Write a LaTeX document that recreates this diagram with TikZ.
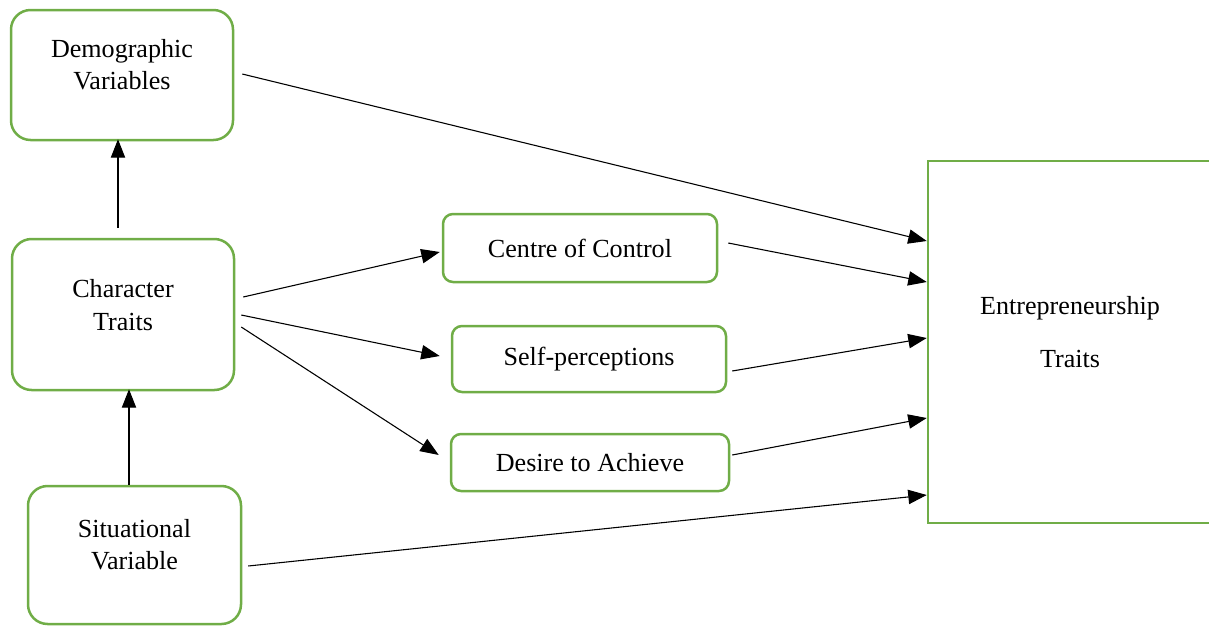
\documentclass[tikz,border=0pt]{standalone}
\usepackage{fontspec}
\setmainfont{Liberation Serif}
\usetikzlibrary{arrows.meta,calc}
\definecolor{boxgreen}{HTML}{70AD47}
\begin{document}
\begin{tikzpicture}[x=0.46pt,y=-0.46pt,
  bigbox/.style={draw=boxgreen,line width=1.15pt,rounded corners=9pt,inner sep=0pt},
  smallbox/.style={draw=boxgreen,line width=1.15pt,rounded corners=4.6pt,inner sep=0pt},
  sqbox/.style={draw=boxgreen,line width=1.15pt,inner sep=0pt},
  txt/.style={font=\fontsize{12pt}{14.8pt}\selectfont,align=center,inner sep=0pt},
  arr/.style={-{Triangle[length=8.5pt,width=6.6pt]},line width=0.5pt}]
\useasboundingbox (0,0) rectangle (1209,626);
% boxes
\node[bigbox,minimum width={222*0.46pt},minimum height={130*0.46pt}] (demo) at (122,75) {};
\node[txt] (demot) at (122,65) {Demographic\\Variables};
\node[bigbox,minimum width={222*0.46pt},minimum height={151*0.46pt}] (char) at (123,314.5) {};
\node[txt] (chart) at (123,305) {Character\\Traits};
\node[bigbox,minimum width={213*0.46pt},minimum height={138*0.46pt}] (sit) at (134.5,555) {};
\node[txt] (sitt) at (134.5,545) {Situational\\Variable};
\node[smallbox,minimum width={274*0.46pt},minimum height={68*0.46pt},txt] (ctrl) at (580,248) {Centre of Control};
\node[smallbox,minimum width={274*0.46pt},minimum height={66*0.46pt},txt] (self) at (589,359) {Self-perceptions};
\node[smallbox,minimum width={278*0.46pt},minimum height={57*0.46pt},txt] (des) at (590,462.5) {Desire to Achieve};
\node[sqbox,minimum width={292*0.46pt},minimum height={362*0.46pt}] (ent) at (1074,342) {};
\node[txt,font=\fontsize{12pt}{24.5pt}\selectfont] (entt) at (1070,332) {Entrepreneurship\\Traits};
% connectors
\draw[arr] ($(char.north)+(-5,-10)$) -- ($(demo.south)+(-4,-2)$);
\draw[arr] ($(sit.north)+(-5.5,0)$) -- ($(char.south)+(6,-2)$);
\draw[arr] ($(demo.east)+(8,-1)$) -- ($(ent.west)+(0,-101)$);
\draw[arr] ($(char.east)+(8,-17.5)$) -- ($(ctrl.west)+(-2,4)$);
\draw[arr] ($(char.east)+(6,0.5)$) -- ($(self.west)+(-11,-3)$);
\draw[arr] ($(char.east)+(6,12.5)$) -- ($(des.west)+(-11,-7.5)$);
\draw[arr] ($(ctrl.east)+(10,-5)$) -- ($(ent.west)+(0,-60)$);
\draw[arr] ($(self.east)+(5,12)$) -- ($(ent.west)+(0,-4)$);
\draw[arr] ($(des.east)+(2,-7.5)$) -- ($(ent.west)+(0,76)$);
\draw[arr] ($(sit.east)+(6,11)$) -- ($(ent.west)+(0,153)$);
\end{tikzpicture}
\end{document}
